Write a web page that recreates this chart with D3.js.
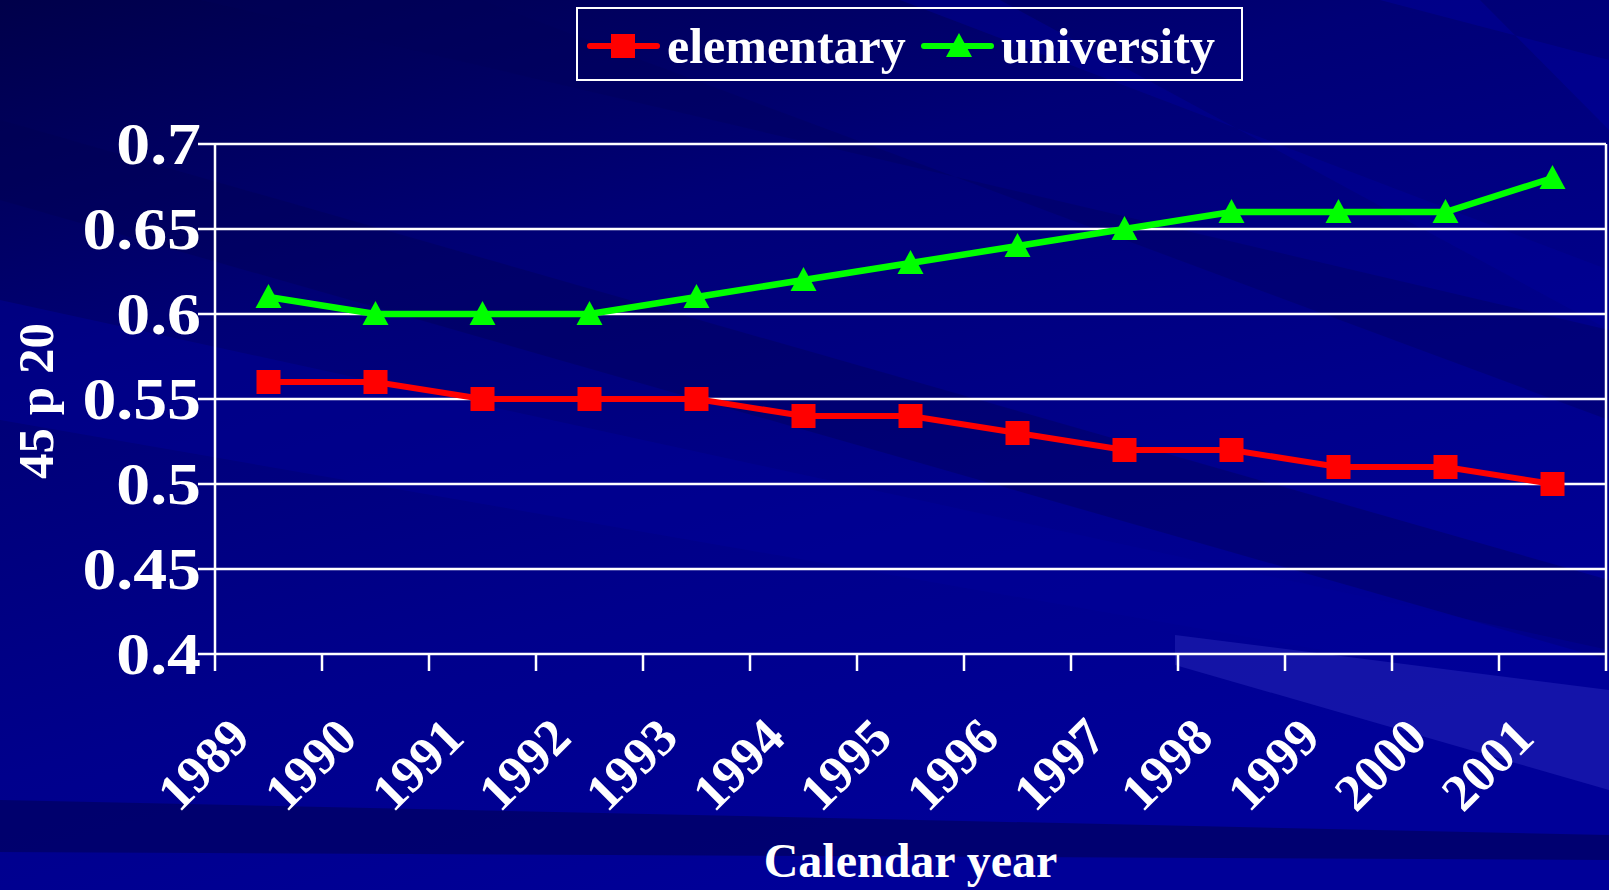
<!DOCTYPE html>
<html>
<head>
<meta charset="utf-8">
<script src="https://cdn.jsdelivr.net/npm/d3@7"></script>
<style>
  html, body { margin: 0; padding: 0; background: #000080; overflow: hidden; }
  text { font-family: "Liberation Serif", "Times New Roman", serif; font-weight: bold; fill: white; }
</style>
</head>
<body>
<div id="chart-area"></div>
<script>
const years = ["1989", "1990", "1991", "1992", "1993", "1994", "1995", "1996", "1997", "1998", "1999", "2000", "2001"];
const elementary = [0.56, 0.56, 0.55, 0.55, 0.55, 0.54, 0.54, 0.53, 0.52, 0.52, 0.51, 0.51, 0.50];
const university = [0.61, 0.60, 0.60, 0.60, 0.61, 0.62, 0.63, 0.64, 0.65, 0.66, 0.66, 0.66, 0.68];
const yTicks = [0.4, 0.45, 0.5, 0.55, 0.6, 0.65, 0.7];
const seriesNames = ["elementary", "university"];

const width = 1609;
const height = 890;

const svg = d3
  .select("#chart-area")
  .append("svg")
  .attr("width", width)
  .attr("height", height);

drawBackground(svg);

const x = d3.scaleBand().domain(years).range([215, 1606]);
const y = d3.scaleLinear().domain([0.4, 0.7]).range([654, 144]);
const left = x.range()[0];
const right = x.range()[1];
const tickLen = 17;

// gridlines + y ticks
svg
  .append("g")
  .selectAll("line")
  .data(yTicks)
  .join("line")
  .attr("x1", left - tickLen)
  .attr("x2", right)
  .attr("y1", (d) => y(d))
  .attr("y2", (d) => y(d))
  .attr("stroke", "white")
  .attr("stroke-width", 2.5);

// left axis and right border
svg
  .append("g")
  .selectAll("line")
  .data([left, right])
  .join("line")
  .attr("x1", (d) => d)
  .attr("x2", (d) => d)
  .attr("y1", y(0.7))
  .attr("y2", y(0.4))
  .attr("stroke", "white")
  .attr("stroke-width", 2.5);

// x ticks at band edges
const edges = years.map((d) => x(d)).concat([right]);
svg
  .append("g")
  .selectAll("line")
  .data(edges)
  .join("line")
  .attr("x1", (d) => d)
  .attr("x2", (d) => d)
  .attr("y1", y(0.4))
  .attr("y2", y(0.4) + tickLen)
  .attr("stroke", "white")
  .attr("stroke-width", 2.5);

// y labels (glyphs a bit wider than Liberation's)
svg
  .append("g")
  .selectAll("text")
  .data(yTicks)
  .join("text")
  .attr("text-anchor", "end")
  .attr("transform", (d) => `translate(201, ${y(d) + 20}) scale(1.13, 1)`)
  .style("font-size", "60px")
  .text((d) => d);

// x labels
svg
  .append("g")
  .selectAll("text")
  .data(years)
  .join("text")
  .attr("text-anchor", "end")
  .attr(
    "transform",
    (d) => `translate(${x(d) + x.bandwidth() / 2 - 16}, 740) rotate(-45)`
  )
  .style("font-size", "52px")
  .text((d) => d);

// axis titles
svg
  .append("text")
  .attr("x", (left + right) / 2)
  .attr("y", 877)
  .attr("text-anchor", "middle")
  .style("font-size", "48px")
  .text("Calendar year");

svg
  .append("text")
  .attr("transform", "translate(53, 401) rotate(-90)")
  .attr("text-anchor", "middle")
  .style("font-size", "51px")
  .text("45 p 20");

// series
const line = d3
  .line()
  .x((d, i) => x(years[i]) + x.bandwidth() / 2)
  .y((d) => y(d));

svg
  .append("path")
  .datum(elementary)
  .attr("d", line)
  .attr("fill", "none")
  .attr("stroke", "#ff0000")
  .attr("stroke-width", 6);

svg
  .append("path")
  .datum(university)
  .attr("d", line)
  .attr("fill", "none")
  .attr("stroke", "#00ff00")
  .attr("stroke-width", 6.5);

svg
  .append("g")
  .selectAll("rect")
  .data(elementary)
  .join("rect")
  .attr("x", (d, i) => x(years[i]) + x.bandwidth() / 2 - 12)
  .attr("y", (d) => y(d) - 12)
  .attr("width", 24)
  .attr("height", 24)
  .attr("fill", "#ff0000");

const tri = "M0,-13 L13,11 L-13,11 Z";
svg
  .append("g")
  .selectAll("path")
  .data(university)
  .join("path")
  .attr("d", tri)
  .attr("transform", (d, i) => `translate(${x(years[i]) + x.bandwidth() / 2}, ${y(d)})`)
  .attr("fill", "#00ff00");

drawLegend(svg);

function drawLegend(svg) {
  const legend = svg.append("g").attr("id", "legend-area");
  legend
    .append("rect")
    .attr("x", 577)
    .attr("y", 8)
    .attr("width", 665)
    .attr("height", 72)
    .attr("fill", "none")
    .attr("stroke", "white")
    .attr("stroke-width", 2);

  const colors = ["#ff0000", "#00ff00"];
  const starts = [590, 924];
  const item = legend
    .selectAll("g")
    .data(seriesNames)
    .join("g")
    .attr("transform", (d, i) => `translate(${starts[i]}, 46)`);

  item
    .append("line")
    .attr("x1", 0)
    .attr("x2", 67)
    .attr("stroke", (d, i) => colors[i])
    .attr("stroke-width", 6)
    .attr("stroke-linecap", "round");

  item
    .filter((d, i) => i === 0)
    .append("rect")
    .attr("x", 21)
    .attr("y", -12)
    .attr("width", 24)
    .attr("height", 24)
    .attr("fill", colors[0]);

  item
    .filter((d, i) => i === 1)
    .append("path")
    .attr("d", tri)
    .attr("transform", "translate(35, 0)")
    .attr("fill", colors[1]);

  item
    .append("text")
    .attr("x", 77)
    .attr("y", 17)
    .style("font-size", "50px")
    .text((d) => d);
}

function drawBackground(svg) {
  const defs = svg.append("defs");
  const grad = defs
    .append("linearGradient")
    .attr("id", "bg")
    .attr("x1", 0)
    .attr("y1", 0)
    .attr("x2", 0.5)
    .attr("y2", 1);
  grad.append("stop").attr("offset", 0).attr("stop-color", "#00004a");
  grad.append("stop").attr("offset", 0.35).attr("stop-color", "#000076");
  grad.append("stop").attr("offset", 0.7).attr("stop-color", "#00008c");
  grad.append("stop").attr("offset", 1).attr("stop-color", "#000098");

  svg
    .append("rect")
    .attr("width", width)
    .attr("height", height)
    .attr("fill", "url(#bg)");

  // diagonal streaks
  const streaks = [
    { p: [[0, 120], [0, 200], [1609, 660], [1609, 580]], c: "#000050", o: 0.35 },
    { p: [[0, 300], [0, 420], [1609, 700], [1609, 650]], c: "#000098", o: 0.45 },
    { p: [[200, 0], [480, 0], [1609, 420], [1609, 330]], c: "#00005a", o: 0.35 },
    { p: [[900, 0], [1000, 0], [1609, 330], [1609, 270]], c: "#00009a", o: 0.45 },
    { p: [[1175, 635], [1609, 690], [1609, 790], [1175, 665]], c: "#3a3ac8", o: 0.35 },
    { p: [[0, 800], [1609, 835], [1609, 860], [0, 852]], c: "#000060", o: 0.7 },
    { p: [[1380, 0], [1480, 0], [1609, 130], [1609, 60]], c: "#0000a4", o: 0.4 },
  ];
  svg
    .append("g")
    .selectAll("polygon")
    .data(streaks)
    .join("polygon")
    .attr("points", (d) => d.p.map((q) => q.join(",")).join(" "))
    .attr("fill", (d) => d.c)
    .attr("opacity", (d) => d.o);
}
</script>
</body>
</html>
